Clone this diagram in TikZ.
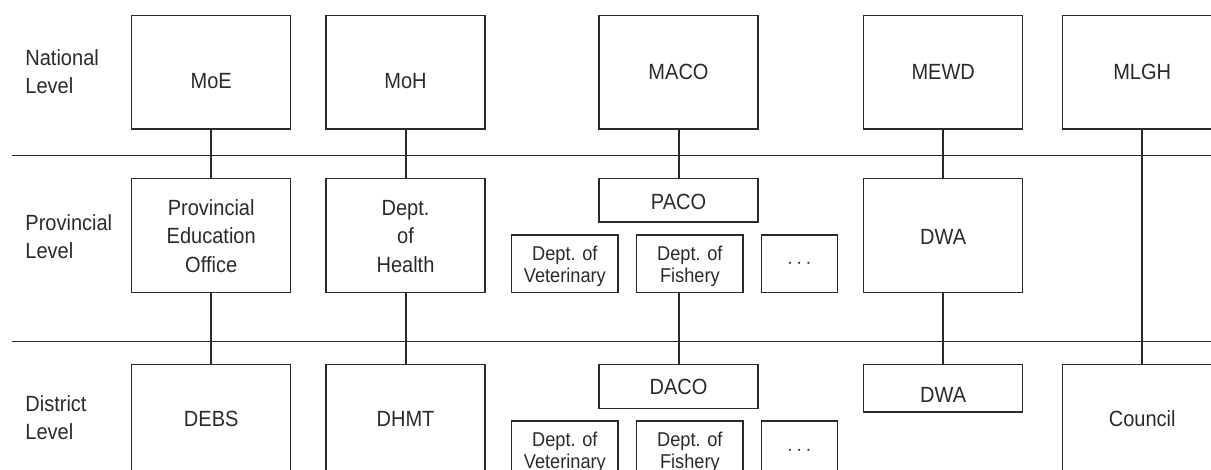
\documentclass[tikz,border=0pt]{standalone}
\usepackage{fontspec}
\setmainfont{Liberation Sans}[FakeStretch=0.91]
\definecolor{ink}{HTML}{2A2A2A}
\newcommand\Tx[2]{\raisebox{#1pt}[0pt][0pt]{\begin{tabular}[b]{@{}c@{}}#2\end{tabular}}}
\tikzset{
  box/.style={draw=ink, line width=1.1pt, inner sep=0pt, text=ink,
    font=\fontsize{22}{28.3}\selectfont},
  small/.style={font=\fontsize{20}{22}\selectfont},
  conn/.style={draw=ink, line width=2pt},
  levelline/.style={draw=ink, line width=0.9pt},
  lvl/.style={inner sep=0pt, anchor=base west, text=ink,
    font=\fontsize{22}{28.3}\selectfont}
}
\begin{document}
\begin{tikzpicture}[x=1pt,y=-1pt]
\useasboundingbox (0,0) rectangle (1211,470);
\clip (0,0) rectangle (1211,470);
% level separators
\coordinate (l1a) at (11.7,155.3); \coordinate (l1b) at (1212,155.3);
\coordinate (l2a) at (11.7,341);   \coordinate (l2b) at (1212,341);
\draw[levelline] (l1a) -- (l1b);
\draw[levelline] (l2a) -- (l2b);
% level labels
\node[lvl] (natl) at (25.2,65.7) {\begin{tabular}[t]{@{}l@{}}National\\Level\end{tabular}};
\node[lvl] (provl) at (25.2,230.7) {\begin{tabular}[t]{@{}l@{}}Provincial\\Level\end{tabular}};
\node[lvl] (distl) at (25.2,411.7) {\begin{tabular}[t]{@{}l@{}}District\\Level\end{tabular}};
% national
\node[box, minimum width=159pt, minimum height=113.3pt] (moe)  at (211.2,72.35) {\Tx{-16.35}{MoE}};
\node[box, minimum width=159pt, minimum height=113.3pt] (moh)  at (405.5,72.35) {\Tx{-16.35}{MoH}};
\node[box, minimum width=159pt, minimum height=113.3pt] (maco) at (678.5,72.35) {\Tx{-7.0}{MACO}};
\node[box, minimum width=159pt, minimum height=113.3pt] (mewd) at (943.2,72.35) {\Tx{-7.6}{MEWD}};
\node[box, minimum width=159pt, minimum height=113.3pt] (mlgh) at (1142.2,72.35) {\Tx{-7.6}{MLGH}};
% provincial
\node[box, minimum width=159pt, minimum height=114pt] (peo) at (211.2,235.3) {\Tx{-37}{Provincial\\Education\\Office}};
\node[box, minimum width=159pt, minimum height=114pt] (doh) at (405.5,235.3) {\Tx{-37}{Dept.\\of\\Health}};
\node[box, minimum width=159pt, minimum height=43.7pt] (paco) at (678.5,200.15) {\Tx{-9.15}{PACO}};
\node[box, small, minimum width=106.3pt, minimum height=57.3pt] (vetP) at (564.85,263.65) {\Tx{-19.05}{Dept. of\\Veterinary}};
\node[box, small, minimum width=106.3pt, minimum height=57.3pt] (fishP) at (689.85,263.65) {\Tx{-19.05}{Dept. of\\Fishery}};
\node[box, small, minimum width=76pt, minimum height=57.3pt] (dotsP) at (799.3,263.65) {\Tx{-5.35}{$\cdots$}};
\node[box, minimum width=159pt, minimum height=114pt] (dwaP) at (943.2,235.3) {\Tx{-9.7}{DWA}};
% district
\node[box, minimum width=159pt, minimum height=113.3pt] (debs) at (211.2,421.35) {\Tx{-5.35}{DEBS}};
\node[box, minimum width=159pt, minimum height=113.3pt] (dhmt) at (405.5,421.35) {\Tx{-5.35}{DHMT}};
\node[box, minimum width=159pt, minimum height=44pt] (daco) at (678.5,386.7) {\Tx{-8.3}{DACO}};
\node[box, small, minimum width=106.3pt, minimum height=57.3pt] (vetD) at (564.85,449.65) {\Tx{-19.05}{Dept. of\\Veterinary}};
\node[box, small, minimum width=106.3pt, minimum height=57.3pt] (fishD) at (689.85,449.65) {\Tx{-19.05}{Dept. of\\Fishery}};
\node[box, small, minimum width=76pt, minimum height=57.3pt] (dotsD) at (799.3,449.65) {\Tx{-5.35}{$\cdots$}};
\node[box, minimum width=159pt, minimum height=47.3pt] (dwaD) at (943.2,388.35) {\Tx{-13.95}{DWA}};
\node[box, minimum width=159pt, minimum height=113.3pt] (council) at (1142.2,421.35) {\Tx{-5.35}{Council}};
% connectors
\draw[conn] (moe.south) -- (peo.north);
\draw[conn] (peo.south) -- (debs.north);
\draw[conn] (moh.south) -- (doh.north);
\draw[conn] (doh.south) -- (dhmt.north);
\draw[conn] (maco.south) -- (paco.north);
\draw[conn] (fishP.south -| daco.north) -- (daco.north);
\draw[conn] (mewd.south) -- (dwaP.north);
\draw[conn] (dwaP.south) -- (dwaD.north);
\draw[conn] (mlgh.south) -- (council.north);
\end{tikzpicture}
\end{document}
